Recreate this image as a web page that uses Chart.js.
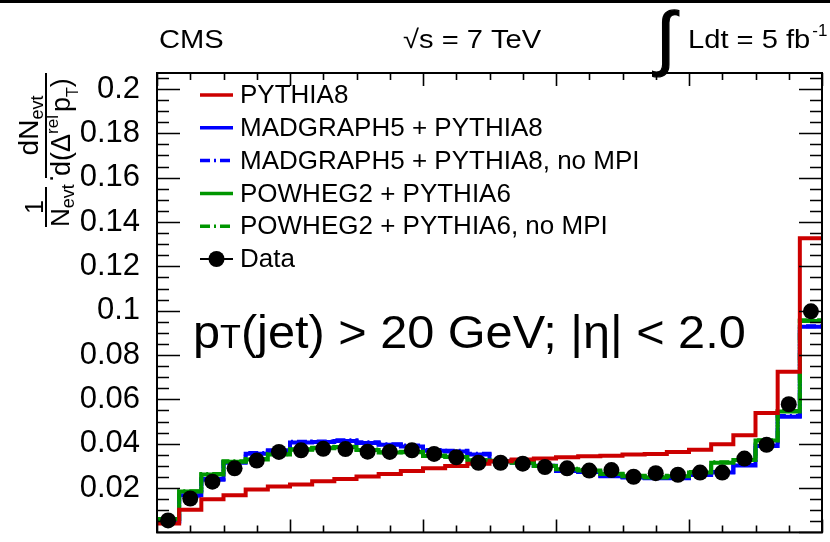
<!DOCTYPE html>
<html>
<head>
<meta charset="utf-8">
<title>Relative pT balance</title>
<script src="https://cdn.jsdelivr.net/npm/chart.js@4.4.1/dist/chart.umd.min.js"></script>
<style>
  html, body { margin: 0; padding: 0; background: #fff; overflow: hidden; }
  #wrap { width: 830px; height: 560px; }
</style>
</head>
<body>
<div id="wrap"><canvas id="c" width="830" height="560"></canvas></div>
<script>
// 30 equal bins of Delta^rel pT between 0 and 1
const nBins = 30;
const xMin = 0;
const xMax = 1;
const yMax = 0.2072;

const yTickValues = [0.02, 0.04, 0.06, 0.08, 0.10, 0.12, 0.14, 0.16, 0.18, 0.20];
const yTickLabels = ['0.02', '0.04', '0.06', '0.08', '0.1', '0.12', '0.14', '0.16', '0.18', '0.2'];

const seriesLabels = [
  'PYTHIA8',
  'MADGRAPH5 + PYTHIA8',
  'MADGRAPH5 + PYTHIA8, no MPI',
  'POWHEG2 + PYTHIA6',
  'POWHEG2 + PYTHIA6, no MPI',
  'Data'
];

const pythia8 = [0.0040, 0.0102, 0.0149, 0.0168, 0.0193, 0.0207, 0.0216, 0.0231, 0.0241, 0.0252,
                 0.0263, 0.0277, 0.0289, 0.0299, 0.0310, 0.0321, 0.0329, 0.0333, 0.0339, 0.0344,
                 0.0346, 0.0351, 0.0354, 0.0363, 0.0373, 0.0398, 0.0438, 0.0538, 0.0725, 0.1327];

const madgraph = [0.0050, 0.0168, 0.0241, 0.0314, 0.0355, 0.0365, 0.0405, 0.0408, 0.0412, 0.0403,
                  0.0395, 0.0387, 0.0368, 0.0365, 0.0351, 0.0321, 0.0314, 0.0299, 0.0277, 0.0272,
                  0.0253, 0.0248, 0.0244, 0.0244, 0.0259, 0.0270, 0.0302, 0.0390, 0.0522, 0.0927];

const madgraphNoMpi = [0.0048, 0.0165, 0.0238, 0.0318, 0.0358, 0.0370, 0.0409, 0.0410, 0.0416, 0.0407,
                       0.0398, 0.0392, 0.0372, 0.0368, 0.0355, 0.0324, 0.0316, 0.0301, 0.0279, 0.0273,
                       0.0255, 0.0250, 0.0246, 0.0246, 0.0261, 0.0272, 0.0304, 0.0392, 0.0525, 0.0930];

const powheg = [0.0060, 0.0184, 0.0261, 0.0319, 0.0329, 0.0351, 0.0373, 0.0380, 0.0385, 0.0372,
                0.0360, 0.0362, 0.0345, 0.0340, 0.0325, 0.0321, 0.0314, 0.0299, 0.0285, 0.0279,
                0.0263, 0.0253, 0.0248, 0.0253, 0.0270, 0.0314, 0.0326, 0.0414, 0.0545, 0.0954];

const powhegNoMpi = [0.0061, 0.0186, 0.0263, 0.0321, 0.0331, 0.0353, 0.0375, 0.0382, 0.0386, 0.0374,
                     0.0362, 0.0364, 0.0347, 0.0342, 0.0327, 0.0323, 0.0316, 0.0301, 0.0287, 0.0281,
                     0.0265, 0.0255, 0.0250, 0.0255, 0.0272, 0.0316, 0.0328, 0.0416, 0.0547, 0.0957];

const dataValues = [0.0054, 0.0153, 0.0229, 0.0289, 0.0324, 0.0363, 0.0370, 0.0377, 0.0376, 0.0364,
                    0.0363, 0.0370, 0.0354, 0.0339, 0.0314, 0.0314, 0.0310, 0.0295, 0.0289, 0.0279,
                    0.0281, 0.0251, 0.0267, 0.0260, 0.0270, 0.0270, 0.0333, 0.0395, 0.0578, 0.0997];

const FONT = '"Liberation Sans", Arial, Helvetica, sans-serif';
const RED = '#cc0000';
const BLUE = '#0000ff';
const GREEN = '#009600';
const DASHDOT = [10, 4, 2, 4];

const binEdges = Array.from({ length: nBins + 1 }, (_, i) => xMin + (xMax - xMin) * i / nBins);

// step histogram: one point per lower bin edge, plus the upper edge of the last bin
function histPoints(vals) {
  const pts = vals.map((v, i) => ({ x: binEdges[i], y: v }));
  pts.push({ x: binEdges[nBins], y: vals[vals.length - 1] });
  return pts;
}

function histSet(label, vals, color, dash, order) {
  return {
    label, data: histPoints(vals), borderColor: color, borderWidth: 4,
    borderDash: dash || [], stepped: 'before', pointRadius: 0, fill: false, order
  };
}

const datasets = [
  histSet(seriesLabels[0], pythia8, RED, null, 1),
  histSet(seriesLabels[1], madgraph, BLUE, null, 5),
  histSet(seriesLabels[2], madgraphNoMpi, BLUE, DASHDOT, 4),
  histSet(seriesLabels[3], powheg, GREEN, null, 3),
  histSet(seriesLabels[4], powhegNoMpi, GREEN, DASHDOT, 2),
  {
    label: seriesLabels[5],
    data: dataValues.map((v, i) => ({ x: (binEdges[i] + binEdges[i + 1]) / 2, y: v })),
    showLine: false, pointRadius: 8, pointBackgroundColor: '#000',
    pointBorderWidth: 0, borderColor: '#000', order: 0
  }
];

// text drawn a little wider than the font, like the ROOT output
function wideText(ctx, str, x, y, sx) {
  ctx.save();
  ctx.translate(x, y);
  ctx.scale(sx, 1);
  ctx.fillText(str, 0, 0);
  ctx.restore();
  return ctx.measureText(str).width * sx;
}

// draw a run of text pieces rotated to read bottom-to-top
function rotRun(ctx, segs, baseX, startY) {
  let y = startY;
  for (const s of segs) {
    ctx.font = `${s.size}px ${FONT}`;
    ctx.save();
    ctx.translate(baseX + (s.dx || 0), y);
    ctx.rotate(-Math.PI / 2);
    ctx.fillText(s.t, 0, 0);
    ctx.restore();
    y -= ctx.measureText(s.t).width + (s.gap || 0);
  }
  return startY - y;
}

function runLength(ctx, segs) {
  let w = 0;
  for (const s of segs) {
    ctx.font = `${s.size}px ${FONT}`;
    w += ctx.measureText(s.t).width + (s.gap || 0);
  }
  return w;
}

const rootStyle = {
  id: 'rootStyle',
  afterDatasetsDraw(chart) {
    const { ctx, chartArea: a, scales: { x, y } } = chart;
    ctx.save();
    ctx.strokeStyle = '#000';

    // inward tick marks on all four sides
    ctx.lineWidth = 1.6;
    ctx.beginPath();
    for (let k = 0; k * 0.005 <= yMax; k++) {
      const py = Math.round(y.getPixelForValue(k * 0.005)) + 0.5;
      const len = k % 4 === 0 ? 23 : 12;
      ctx.moveTo(a.left, py); ctx.lineTo(a.left + len, py);
      ctx.moveTo(a.right, py); ctx.lineTo(a.right - len, py);
    }
    for (let k = 0; k <= 20; k++) {
      const px = Math.round(x.getPixelForValue(k * 0.05)) + 0.5;
      const len = k % 4 === 0 ? 13 : 7;
      ctx.moveTo(px, a.bottom); ctx.lineTo(px, a.bottom - len);
      ctx.moveTo(px, a.top); ctx.lineTo(px, a.top + len);
    }
    ctx.stroke();

    ctx.lineWidth = 2;
    ctx.strokeRect(a.left, a.top, a.right - a.left, a.bottom - a.top);
    ctx.restore();
  },
  afterDraw(chart) {
    const { ctx } = chart;
    ctx.save();
    ctx.fillStyle = '#000';
    ctx.textAlign = 'left';
    ctx.textBaseline = 'alphabetic';

    ctx.fillRect(0, 0, 830, 3);

    // header line
    ctx.font = `26px ${FONT}`;
    wideText(ctx, 'CMS', 159, 48, 1.12);
    wideText(ctx, '\u221As = 7 TeV', 403, 48, 1.12);

    ctx.font = `100px ${FONT}`;
    const im = ctx.measureText('\u222B');
    const ih = im.actualBoundingBoxAscent + im.actualBoundingBoxDescent;
    const isz = 100 * 68 / ih;
    ctx.font = `${isz}px ${FONT}`;
    const im2 = ctx.measureText('\u222B');
    ctx.save();
    ctx.lineWidth = 1.2;
    ctx.strokeStyle = '#000';
    const ix = 652 + im2.actualBoundingBoxLeft, iy = 9 + im2.actualBoundingBoxAscent;
    ctx.fillText('\u222B', ix, iy);
    ctx.strokeText('\u222B', ix, iy);
    ctx.restore();

    ctx.font = `26px ${FONT}`;
    const lw = wideText(ctx, 'Ldt = 5 fb', 688, 48, 1.12);
    ctx.font = `17px ${FONT}`;
    ctx.fillText('-1', 688 + lw + 2, 36);

    // y axis title: 1/N_evt dN_evt/d(Delta^rel pT)
    ctx.fillRect(45, 187, 2, 40);
    ctx.fillRect(45, 73, 2, 105);
    const one = [{ t: '1', size: 25 }];
    rotRun(ctx, one, 43, 207 + runLength(ctx, one) / 2);
    rotRun(ctx, [{ t: 'N', size: 26 }, { t: 'evt', size: 18, dx: 5 }], 69, 227);
    rotRun(ctx, [{ t: '.', size: 26 }], 53, 182);
    rotRun(ctx, [
      { t: 'd(\u0394', size: 27 },
      { t: 'rel', size: 17, dx: -12, gap: 3 },
      { t: 'p', size: 27 },
      { t: 'T', size: 16, dx: 8 },
      { t: ')', size: 27 }
    ], 70, 176);
    const num = [{ t: 'dN', size: 28 }, { t: 'evt', size: 18, dx: 5 }];
    rotRun(ctx, num, 38, 125.5 + runLength(ctx, num) / 2);

    // selection label inside the frame
    const sx = 1.035;
    let tx = 193;
    ctx.font = `47px ${FONT}`;
    tx += wideText(ctx, 'p', tx, 348, sx);
    ctx.font = `33px ${FONT}`;
    tx += wideText(ctx, 'T', tx, 348, sx);
    ctx.font = `47px ${FONT}`;
    wideText(ctx, '(jet) > 20 GeV; |\u03B7| < 2.0', tx, 348, sx);

    // legend
    const lx0 = 200, lx1 = 233, ly0 = 95, dy = 32.8;
    chart.data.datasets.forEach((ds, i) => {
      const ly = ly0 + i * dy;
      ctx.save();
      if (i === 5) {
        ctx.strokeStyle = '#000';
        ctx.lineWidth = 2;
        ctx.beginPath(); ctx.moveTo(lx0, ly); ctx.lineTo(lx1, ly); ctx.stroke();
        ctx.beginPath(); ctx.arc((lx0 + lx1) / 2, ly, 8, 0, Math.PI * 2); ctx.fill();
      } else {
        ctx.strokeStyle = ds.borderColor;
        ctx.lineWidth = 3.5;
        ctx.setLineDash(ds.borderDash);
        ctx.beginPath(); ctx.moveTo(lx0, ly); ctx.lineTo(lx1, ly); ctx.stroke();
      }
      ctx.restore();
      ctx.font = `26px ${FONT}`;
      ctx.textBaseline = 'middle';
      ctx.fillText(ds.label, 240, ly + 1);
      ctx.textBaseline = 'alphabetic';
    });
    ctx.restore();
  }
};

new Chart(document.getElementById('c'), {
  type: 'line',
  data: { datasets },
  options: {
    responsive: false,
    animation: false,
    devicePixelRatio: 1,
    layout: { padding: { left: 0, right: 4, top: 73, bottom: 15 } },
    plugins: { legend: { display: false }, tooltip: { enabled: false } },
    scales: {
      x: { type: 'linear', min: xMin, max: xMax, display: false },
      y: {
        type: 'linear', min: 0, max: yMax,
        afterBuildTicks: s => { s.ticks = yTickValues.map(v => ({ value: v })); },
        afterFit: s => { s.width = 157; },
        grid: { display: false },
        border: { display: false },
        ticks: {
          autoSkip: false, padding: 9, color: '#000',
          font: { family: FONT, size: 31 },
          callback: (v, i) => yTickLabels[i]
        }
      }
    }
  },
  plugins: [rootStyle]
});
</script>
</body>
</html>
